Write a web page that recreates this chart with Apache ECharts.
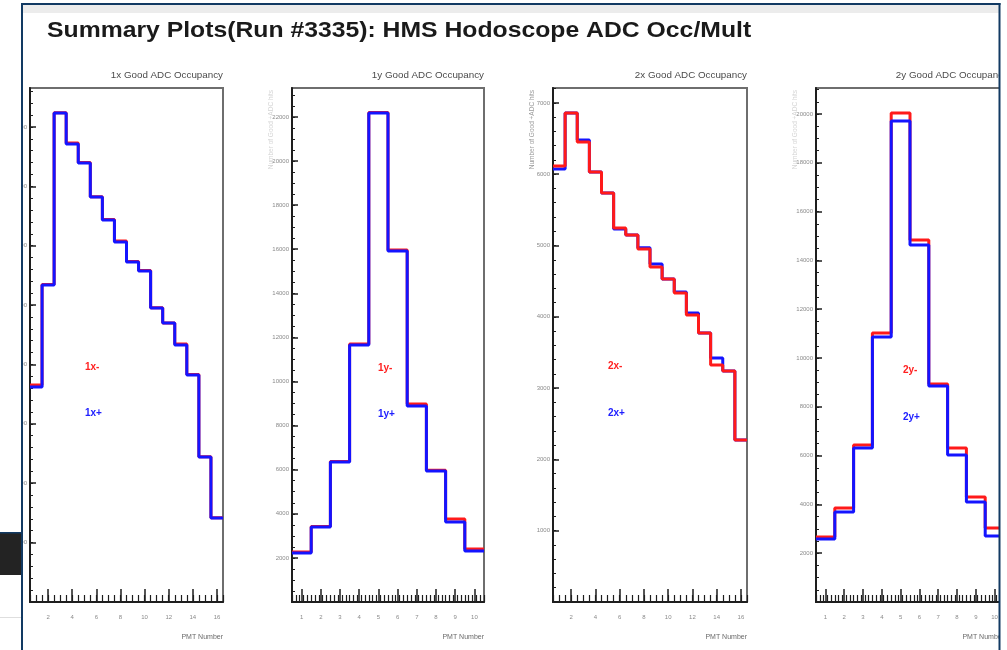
<!DOCTYPE html>
<html>
<head>
<meta charset="utf-8">
<script src="https://cdn.jsdelivr.net/npm/echarts@6/dist/echarts.min.js"></script>
<style>
html,body{margin:0;padding:0;background:#fff;}
#chart{width:1007px;height:650px;}
</style>
</head>
<body>
<div id="chart"></div>
<script>
// ---------------- DATA ----------------
const mainTitle = 'Summary Plots(Run #3335): HMS Hodoscope ADC Occ/Mult';
const panelTitles = ['1x Good ADC Occupancy', '1y Good ADC Occupancy', '2x Good ADC Occupancy', '2y Good ADC Occupancy'];
const xAxisTitle = 'PMT Number';
const yAxisTitle = 'Number of Good +ADC hits';

const pmt16 = [1, 2, 3, 4, 5, 6, 7, 8, 9, 10, 11, 12, 13, 14, 15, 16];
const pmt10 = [1, 2, 3, 4, 5, 6, 7, 8, 9, 10];

const x1Neg = [7310, 10690, 16480, 15460, 14800, 13650, 12880, 12160, 11470, 11160, 9910, 9400, 8690, 7660, 4890, 2840];
const x1Pos = [7239, 10673, 16465, 15421, 14781, 13636, 12862, 12121, 11448, 11145, 9899, 9394, 8653, 7643, 4882, 2828];

const y1Neg = [2268, 3420, 6370, 11700, 22200, 15960, 8980, 5970, 3764, 2404];
const y1Pos = [2222, 3401, 6349, 11655, 22177, 15918, 8889, 5941, 3628, 2313];

const x2Neg = [6115, 6858, 6452, 6031, 5736, 5245, 5147, 4951, 4698, 4530, 4334, 4025, 3773, 3324, 3240, 2272];
const x2Pos = [6073, 6858, 6480, 6031, 5736, 5231, 5147, 4970, 4741, 4530, 4348, 4053, 3773, 3422, 3240, 2272];

const y2Neg = [2664, 3852, 6434, 11025, 20041, 14836, 8934, 6311, 4303, 3033];
const y2Pos = [2582, 3689, 6311, 10861, 19713, 14631, 8852, 6025, 4098, 2705];

const legendNeg = ['1x-', '1y-', '2x-', '2y-'];
const legendPos = ['1x+', '1y+', '2x+', '2y+'];

// tick labels
const xTicks16 = [2, 4, 6, 8, 10, 12, 14, 16];
const xTicks10 = [1, 2, 3, 4, 5, 6, 7, 8, 9, 10];
const yTicks1 = [2000, 4000, 6000, 8000, 10000, 12000, 14000, 16000];
const yTicks2 = [2000, 4000, 6000, 8000, 10000, 12000, 14000, 16000, 18000, 20000, 22000];
const yTicks3 = [1000, 2000, 3000, 4000, 5000, 6000, 7000];
const yTicks4 = [2000, 4000, 6000, 8000, 10000, 12000, 14000, 16000, 18000, 20000];

// ---------------- LAYOUT ----------------
const FONT = '"Liberation Sans", Arial, sans-serif';
const gridTop = 88, gridH = 514;
const panels = [
  {left: 30,  width: 193, pmts: pmt16, neg: x1Neg, pos: x1Pos, xTicks: xTicks16, xMinorStep: 0.5, yTicks: yTicks1, yMax: 17310, yMinorStep: 400, blueOnTop: true,  yTitleColor: null,     leg: [85, 367, 413]},
  {left: 292, width: 192, pmts: pmt10, neg: y1Neg, pos: y1Pos, xTicks: xTicks10, xMinorStep: 0.2, yTicks: yTicks2, yMax: 23310, yMinorStep: 500, blueOnTop: true,  yTitleColor: '#d4d4d4', leg: [378, 368, 414]},
  {left: 553, width: 194, pmts: pmt16, neg: x2Neg, pos: x2Pos, xTicks: xTicks16, xMinorStep: 0.5, yTicks: yTicks3, yMax: 7209,  yMinorStep: 200, blueOnTop: false, yTitleColor: '#9a9a9a', leg: [608, 366, 413]},
  {left: 816, width: 192, pmts: pmt10, neg: y2Neg, pos: y2Pos, xTicks: xTicks10, xMinorStep: 0.2, yTicks: yTicks4, yMax: 21066, yMinorStep: 500, blueOnTop: true,  yTitleColor: '#d4d4d4', leg: [903, 370, 417]}
];

function histPoints(pmts, vals) {
  const pts = pmts.map((p, i) => [p - 0.5, vals[i]]);
  pts.push([pmts[pmts.length - 1] + 0.5, vals[vals.length - 1]]);
  return pts;
}
function steps(min, max, step) {
  const out = [];
  const n = Math.round((max - min) / step);
  for (let i = 0; i <= n; i++) out.push(+(min + i * step).toFixed(4));
  return out;
}
const plain = v => String(Math.round(v));

const grid = [], xAxis = [], yAxis = [], series = [], graphic = [];

panels.forEach((p, i) => {
  const xmin = 0.5, xmax = p.pmts[p.pmts.length - 1] + 0.5;
  grid.push({left: p.left, top: gridTop, width: p.width, height: gridH, show: true,
    borderColor: '#6e6e6e', borderWidth: 2, backgroundColor: '#fff', containLabel: false});
  // major x axis
  xAxis.push({type: 'value', gridIndex: i, min: xmin, max: xmax, position: 'bottom',
    axisLine: {show: true, onZero: false, lineStyle: {color: '#1e1e1e', width: 2}},
    axisTick: {show: true, inside: true, length: 13, customValues: p.xTicks, lineStyle: {color: '#1e1e1e', width: 1.5}},
    axisLabel: {show: true, customValues: p.xTicks, formatter: plain, fontSize: 6, color: '#8a8a8a', fontFamily: FONT, margin: 12},
    splitLine: {show: false},
    name: xAxisTitle, nameLocation: 'end', nameGap: 0,
    nameTextStyle: {fontSize: 7, color: '#6a6a6a', fontFamily: FONT, align: 'right', verticalAlign: 'top', padding: [32, 0, 0, 0]}
  });
  // minor x axis
  xAxis.push({type: 'value', gridIndex: i, min: xmin, max: xmax, position: 'bottom',
    axisLine: {show: false},
    axisTick: {show: true, inside: true, length: 7, customValues: steps(xmin, xmax, p.xMinorStep), lineStyle: {color: '#1e1e1e', width: 1.2}},
    axisLabel: {show: false}, splitLine: {show: false}
  });
  // major y axis
  yAxis.push({type: 'value', gridIndex: i, min: 0, max: p.yMax, position: 'left',
    axisLine: {show: true, onZero: false, lineStyle: {color: '#1e1e1e', width: 2}},
    axisTick: {show: true, inside: true, length: 6, customValues: p.yTicks, lineStyle: {color: '#1e1e1e', width: 1.5}},
    axisLabel: {show: true, customValues: p.yTicks, formatter: plain, fontSize: 6, color: '#8a8a8a', fontFamily: FONT, margin: 3},
    splitLine: {show: false}
  });
  // minor y axis
  yAxis.push({type: 'value', gridIndex: i, min: 0, max: p.yMax, position: 'left', offset: 0,
    axisLine: {show: false},
    axisTick: {show: true, inside: true, length: 3, customValues: steps(0, Math.floor(p.yMax / p.yMinorStep) * p.yMinorStep, p.yMinorStep), lineStyle: {color: '#1e1e1e', width: 1}},
    axisLabel: {show: false}, splitLine: {show: false}
  });
  const base = {type: 'line', step: 'end', symbol: 'none', xAxisIndex: 2 * i, yAxisIndex: 2 * i,
    animation: false, clip: true, silent: true};
  series.push(Object.assign({}, base, {name: legendNeg[i], data: histPoints(p.pmts, p.neg),
    lineStyle: {color: '#ff1a1a', width: 3}, itemStyle: {color: '#ff1a1a'}, z: p.blueOnTop ? 2 : 3}));
  series.push(Object.assign({}, base, {name: legendPos[i], data: histPoints(p.pmts, p.pos),
    lineStyle: {color: '#1414ff', width: 3}, itemStyle: {color: '#1414ff'}, z: p.blueOnTop ? 3 : 2}));

  // panel title
  graphic.push({type: 'text', z: 50, style: {text: panelTitles[i], x: p.left + p.width, y: 75,
    font: '9.8px ' + FONT, fill: '#4a4a4a', align: 'right', verticalAlign: 'middle'}});
  // legend-like labels
  graphic.push({type: 'text', z: 50, style: {text: legendNeg[i], x: p.leg[0], y: p.leg[1],
    font: 'bold 10px ' + FONT, fill: '#ff2020', align: 'left', verticalAlign: 'middle'}});
  graphic.push({type: 'text', z: 50, style: {text: legendPos[i], x: p.leg[0], y: p.leg[2],
    font: 'bold 10px ' + FONT, fill: '#2020ff', align: 'left', verticalAlign: 'middle'}});
  // y axis title
  if (p.yTitleColor) {
    graphic.push({type: 'text', z: 50, x: p.left - 21, y: 90, rotation: Math.PI / 2,
      style: {text: yAxisTitle, x: 0, y: 0, font: '6.5px ' + FONT, fill: p.yTitleColor, align: 'right', verticalAlign: 'middle'}});
  }
});

// main title (slightly stretched horizontally like the reference)
graphic.push({type: 'text', z: 50, x: 47, y: 31, scaleX: 1.125,
  style: {text: mainTitle, x: 0, y: 0, font: 'bold 22px ' + FONT, fill: '#1a1a1a', align: 'left', verticalAlign: 'middle'}});
// top gray band
graphic.push({type: 'rect', z: 40, shape: {x: 23, y: 5, width: 977, height: 8}, style: {fill: '#ececec'}});
// left outside area
graphic.push({type: 'rect', z: 100, shape: {x: 0, y: 0, width: 22, height: 650}, style: {fill: '#ffffff'}});
graphic.push({type: 'rect', z: 101, shape: {x: 0, y: 533, width: 22, height: 42}, style: {fill: '#232323'}});
graphic.push({type: 'rect', z: 101, shape: {x: 0, y: 532, width: 22, height: 1.5}, style: {fill: '#123a63'}});
graphic.push({type: 'rect', z: 101, shape: {x: 0, y: 617, width: 22, height: 1}, style: {fill: '#dedede'}});
// right outside area
graphic.push({type: 'rect', z: 100, shape: {x: 1000, y: 0, width: 7, height: 650}, style: {fill: '#ffffff'}});
graphic.push({type: 'rect', z: 100, shape: {x: 22, y: 0, width: 985, height: 3}, style: {fill: '#ffffff'}});
// outer frame border lines
graphic.push({type: 'rect', z: 102, shape: {x: 21, y: 3, width: 2, height: 647}, style: {fill: '#123a63'}});
graphic.push({type: 'rect', z: 102, shape: {x: 998.5, y: 3, width: 2, height: 647}, style: {fill: '#123a63'}});
graphic.push({type: 'rect', z: 102, shape: {x: 21, y: 3, width: 979.5, height: 2}, style: {fill: '#123a63'}});

const chart = echarts.init(document.getElementById('chart'), null, {renderer: 'canvas'});
chart.setOption({
  animation: false,
  backgroundColor: '#ffffff',
  grid: grid,
  xAxis: xAxis,
  yAxis: yAxis,
  series: series,
  graphic: graphic
});
</script>
</body>
</html>
